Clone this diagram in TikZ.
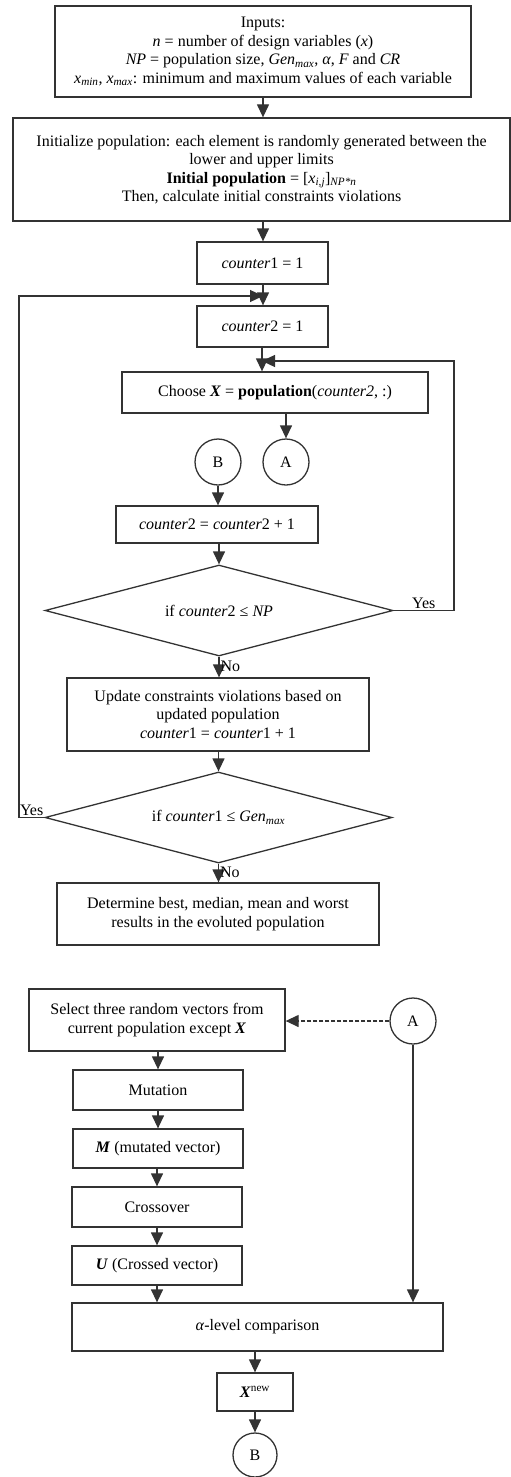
\documentclass[tikz,border=0pt]{standalone}
\usepackage{fontspec}
\setmainfont{Liberation Serif}
\usetikzlibrary{arrows.meta,shapes.geometric,calc}
\begin{document}
\begin{tikzpicture}[x=1pt,y=-1pt,
  every node/.style={font=\fontsize{16}{18.5}\selectfont, text=black},
  box/.style={draw=black!80, line width=1.3pt, rectangle, inner sep=0pt, align=center},
  circ/.style={draw=black!80, line width=1.3pt, circle, inner sep=0pt, minimum size=46pt},
  dia/.style={draw=black!80, line width=1.3pt, diamond, inner sep=0pt, align=center, shape aspect=3.82},
  arr/.style={draw=black!80, line width=1.3pt, -{Triangle[length=13pt,width=12pt]}},
  lbl/.style={inner sep=1pt}]
\useasboundingbox (0,0) rectangle (511,1477);

\node[box, minimum width=416pt, minimum height=91pt] (inputs) at (263,51.5)
 {Inputs:\\ \textit{n} = number of design variables (\textit{x})\\
  \textit{NP} = population size, \textit{Gen}\textsubscript{\textit{max}}, \textit{α}, \textit{F} and \textit{CR}\\
  \textit{x}\textsubscript{\textit{min}}, \textit{x}\textsubscript{\textit{max}}: minimum and maximum values of each variable};
\node[box, minimum width=497pt, minimum height=103pt] (init) at (261.5,169.5)
 {Initialize population: each element is randomly generated between the\\
  lower and upper limits\\
  \textbf{Initial population} = [\textit{x}\textsubscript{\textit{i,j}}]\textsubscript{\textit{NP*n}}\\
  Then, calculate initial constraints violations};
\node[box, minimum width=131pt, minimum height=42pt] (c1) at (262.5,263) {\textit{counter}1 = 1};
\node[box, minimum width=131pt, minimum height=41pt] (c2) at (262.5,326.5) {\textit{counter}2 = 1};
\node[box, minimum width=306pt, minimum height=41pt] (choose) at (275,392.5)
 {Choose \textbf{\textit{X}} = \textbf{population}(\textit{counter2}, :)};
\node[circ] (A1) at (286,462) {A};
\node[circ] (B1) at (218,462) {B};
\node[box, minimum width=202pt, minimum height=37pt] (inc2) at (217,524.5)
 {\textit{counter}2 = \textit{counter}2 + 1};
\node[dia, minimum width=348pt, minimum height=91pt] (d1) at (219,610.5)
 {if \textit{counter}2 ≤ \textit{NP}};
\node[box, minimum width=302pt, minimum height=73pt] (upd) at (218,714.5)
 {Update constraints violations based on\\ updated population\\
  \textit{counter}1 = \textit{counter}1 + 1};
\node[dia, minimum width=347pt, minimum height=91pt] (d2) at (218.5,817.5)
 {if \textit{counter}1 ≤ \textit{Gen}\textsubscript{\textit{max}}};
\node[box, minimum width=322pt, minimum height=62pt] (fin) at (218,914)
 {Determine best, median, mean and worst\\ results in the evoluted population};

\node[box, minimum width=256pt, minimum height=62pt] (sel) at (157,1020)
 {Select three random vectors from\\ current population except \textbf{\textit{X}}};
\node[circ] (A2) at (413,1021) {A};
\node[box, minimum width=170pt, minimum height=40pt] (mut) at (158,1090) {Mutation};
\node[box, minimum width=170pt, minimum height=39pt] (mv) at (158,1148.5) {\textbf{\textit{M}} (mutated vector)};
\node[box, minimum width=170pt, minimum height=40pt] (cro) at (157,1207) {Crossover};
\node[box, minimum width=170pt, minimum height=39pt] (uv) at (157,1265.5) {\textbf{\textit{U}} (Crossed vector)};
\node[box, minimum width=371pt, minimum height=48pt] (alp) at (257.5,1327) {\textit{α}-level comparison};
\node[box, minimum width=76pt, minimum height=38pt] (xn) at (255,1392) {\textbf{\textit{X}}\textsuperscript{new}};
\node[circ, minimum size=44pt] (B2) at (255,1455) {B};

\coordinate (j1) at (263,296);
\coordinate (j2) at (262,361);
\coordinate (lx) at (19,0);
\coordinate (rx) at (454,0);

\draw[arr] (inputs.south -| 263,0) -- (263,0 |- init.north);
\draw[arr] (init.south -| 263,0) -- (263,0 |- c1.north);
\draw[arr] (c1.south -| j1) -- (j1 |- c2.north);
\draw[arr] (c2.south -| j2) -- (j2 |- choose.north);
\draw[arr] (A1 |- choose.south) -- (A1.north);
\draw[arr] (B1.south) -- (B1 |- inc2.north);
\draw[arr] (inc2.south -| d1.north) -- (d1.north);
\draw[arr] (d1.south) -- node[lbl, right, pos=0.45] {No} (d1.south |- upd.north);
\draw[arr] (d1.east) -- node[lbl, above, pos=0.5] {Yes} (rx |- d1.east) -- (rx |- j2) -- (j2);
\draw[arr] (upd.south -| d2.north) -- (d2.north);
\draw[arr] (d2.west) -- node[lbl, above, pos=0.5] {Yes} (lx |- d2.west) -- (lx |- j1) -- (j1);
\draw[arr] (d2.south) -- node[lbl, right, pos=0.45] {No} (d2.south |- fin.north);

\draw[arr, dash pattern=on 4pt off 2pt] (A2.west) -- (A2.west -| sel.east);
\draw[arr] (A2.south) -- (A2 |- alp.north);
\draw[arr] (sel.south -| mut.north) -- (mut.north);
\draw[arr] (mut.south) -- (mut.south |- mv.north);
\draw[arr] (mv.south -| cro.north) -- (cro.north);
\draw[arr] (cro.south) -- (cro.south |- uv.north);
\draw[arr] (uv.south) -- (uv.south |- alp.north);
\draw[arr] (xn |- alp.south) -- (xn.north);
\draw[arr] (xn.south) -- (B2.north);
\end{tikzpicture}
\end{document}
